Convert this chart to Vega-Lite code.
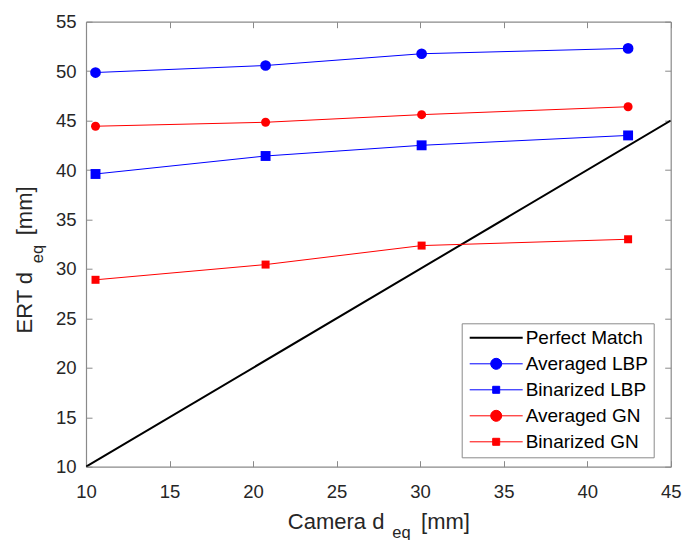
{
  "$schema": "https://vega.github.io/schema/vega-lite/v6.json",
  "width": 584.7,
  "height": 445,
  "autosize": {"type": "none"},
  "padding": {"left": 86, "top": 21.7, "right": 13.3, "bottom": 73.3},
  "background": "white",
  "config": {
    "view": {"stroke": null},
    "font": "Liberation Sans",
    "axis": {
      "grid": false,
      "labelFlush": false,
      "domainColor": "#8a8a8a",
      "domainWidth": 1.2,
      "tickColor": "#8a8a8a",
      "tickWidth": 1,
      "tickSize": -6,
      "labelFont": "Liberation Sans",
      "labelFontSize": 18.5,
      "labelColor": "#262626",
      "titleFont": "Liberation Sans",
      "titleColor": "#262626",
      "titleFontWeight": "normal"
    }
  },
  "datasets": {
    "perfect": [
      {"x": 10, "y": 10, "series": "Perfect Match"},
      {"x": 45, "y": 45, "series": "Perfect Match"}
    ],
    "meas": [
      {"x": 10.57, "y": 49.86, "series": "Averaged LBP"},
      {"x": 20.75, "y": 50.57, "series": "Averaged LBP"},
      {"x": 30.09, "y": 51.76, "series": "Averaged LBP"},
      {"x": 42.45, "y": 52.3, "series": "Averaged LBP"},
      {"x": 10.57, "y": 39.6, "series": "Binarized LBP"},
      {"x": 20.75, "y": 41.42, "series": "Binarized LBP"},
      {"x": 30.09, "y": 42.5, "series": "Binarized LBP"},
      {"x": 42.45, "y": 43.5, "series": "Binarized LBP"},
      {"x": 10.57, "y": 44.43, "series": "Averaged GN"},
      {"x": 20.75, "y": 44.83, "series": "Averaged GN"},
      {"x": 30.09, "y": 45.6, "series": "Averaged GN"},
      {"x": 42.45, "y": 46.4, "series": "Averaged GN"},
      {"x": 10.57, "y": 28.9, "series": "Binarized GN"},
      {"x": 20.75, "y": 30.44, "series": "Binarized GN"},
      {"x": 30.09, "y": 32.36, "series": "Binarized GN"},
      {"x": 42.45, "y": 33.0, "series": "Binarized GN"}
    ]
  },
  "layer": [
    {
      "data": {"name": "perfect"},
      "mark": {"type": "line", "strokeWidth": 2, "clip": true},
      "encoding": {
        "x": {
          "field": "x", "type": "quantitative",
          "scale": {"domain": [10, 45], "nice": false, "zero": false},
          "axis": {
            "orient": "bottom",
            "values": [10, 15, 20, 25, 30, 35, 40, 45],
            "labelPadding": 22,
            "title": "Camera d\u00a0\u00a0\u00a0\u00a0\u00a0\u00a0[mm]",
            "titleFontSize": 22,
            "titleAlign": "left",
            "titleBaseline": "alphabetic",
            "titleX": 201.3,
            "titleY": 62
          }
        },
        "y": {
          "field": "y", "type": "quantitative",
          "scale": {"domain": [10, 55], "nice": false, "zero": false},
          "axis": {
            "orient": "left",
            "values": [10, 15, 20, 25, 30, 35, 40, 45, 50, 55],
            "labelPadding": 16,
            "title": "ERT d\u00a0\u00a0\u00a0\u00a0\u00a0\u00a0[mm]",
            "titleFontSize": 22,
            "titleAngle": 270,
            "titleAlign": "left",
            "titleBaseline": "alphabetic",
            "titleX": -54.3,
            "titleY": 311.3
          }
        },
        "color": {
          "field": "series", "type": "nominal",
          "scale": {
            "domain": ["Perfect Match", "Averaged LBP", "Binarized LBP", "Averaged GN", "Binarized GN"],
            "range": ["#000000", "#0000ff", "#0000ff", "#ff0000", "#ff0000"]
          },
          "legend": {
            "title": null,
            "orient": "none",
            "legendX": 375.7,
            "legendY": 301.6,
            "fillColor": "white",
            "strokeColor": "#8a8a8a",
            "padding": 5,
            "labelFont": "Liberation Sans",
            "labelFontSize": 19,
            "labelColor": "#000000",
            "labelLimit": 300,
            "labelExpr": "datum.label + '\u2003'",
            "symbolSize": 100,
            "symbolOffset": 20,
            "labelOffset": 20,
            "rowPadding": 6,
            "encode": {
              "symbols": {
                "update": {
                  "shape": {"signal": "datum.value === 'Perfect Match' ? 'M-5.3,0H5.3' : (indexof(datum.value, 'Averaged') === 0 ? 'M-5.3,0H5.3M1.1,0A1.1,1.1,0,1,1,-1.1,0A1.1,1.1,0,1,1,1.1,0Z' : 'M-5.3,0H5.3M-0.7,-0.7H0.7V0.7H-0.7Z')"},
                  "fill": {"scale": "color", "field": "value"},
                  "stroke": {"scale": "color", "field": "value"},
                  "strokeWidth": {"signal": "datum.value === 'Perfect Match' ? 2 : 1"},
                  "size": {"value": 100},
                  "opacity": {"value": 1},
                  "fillOpacity": {"value": 1}
                }
              }
            }
          }
        }
      }
    },
    {
      "data": {"name": "meas"},
      "encoding": {
        "x": {
          "field": "x", "type": "quantitative",
          "scale": {"domain": [10, 45], "nice": false, "zero": false},
          "axis": {
            "orient": "top",
            "values": [10, 15, 20, 25, 30, 35, 40, 45],
            "labels": false,
            "title": "eq",
            "titleFontSize": 16.5,
            "titleAlign": "left",
            "titleBaseline": "alphabetic",
            "titleX": 305.7,
            "titleY": 515.5
          }
        },
        "y": {
          "field": "y", "type": "quantitative",
          "scale": {"domain": [10, 55], "nice": false, "zero": false},
          "axis": {
            "orient": "right",
            "values": [10, 15, 20, 25, 30, 35, 40, 45, 50, 55],
            "labels": false,
            "title": "eq",
            "titleFontSize": 16.5,
            "titleAngle": 270,
            "titleAlign": "left",
            "titleBaseline": "alphabetic",
            "titleX": -628.7,
            "titleY": 241
          }
        },
        "color": {"field": "series", "type": "nominal"}
      },
      "layer": [
        {"mark": {"type": "line", "strokeWidth": 1}},
        {
          "mark": {"type": "point", "filled": true, "opacity": 1, "strokeWidth": 0},
          "encoding": {
            "shape": {
              "field": "series", "type": "nominal",
              "scale": {"domain": ["Averaged LBP", "Binarized LBP", "Averaged GN", "Binarized GN"], "range": ["circle", "square", "circle", "square"]},
              "legend": null
            },
            "size": {
              "field": "series", "type": "nominal",
              "scale": {"domain": ["Averaged LBP", "Binarized LBP", "Averaged GN", "Binarized GN"], "range": [115, 64, 115, 64]},
              "legend": null
            }
          }
        }
      ]
    }
  ],
  "resolve": {"axis": {"x": "independent", "y": "independent"}}
}
